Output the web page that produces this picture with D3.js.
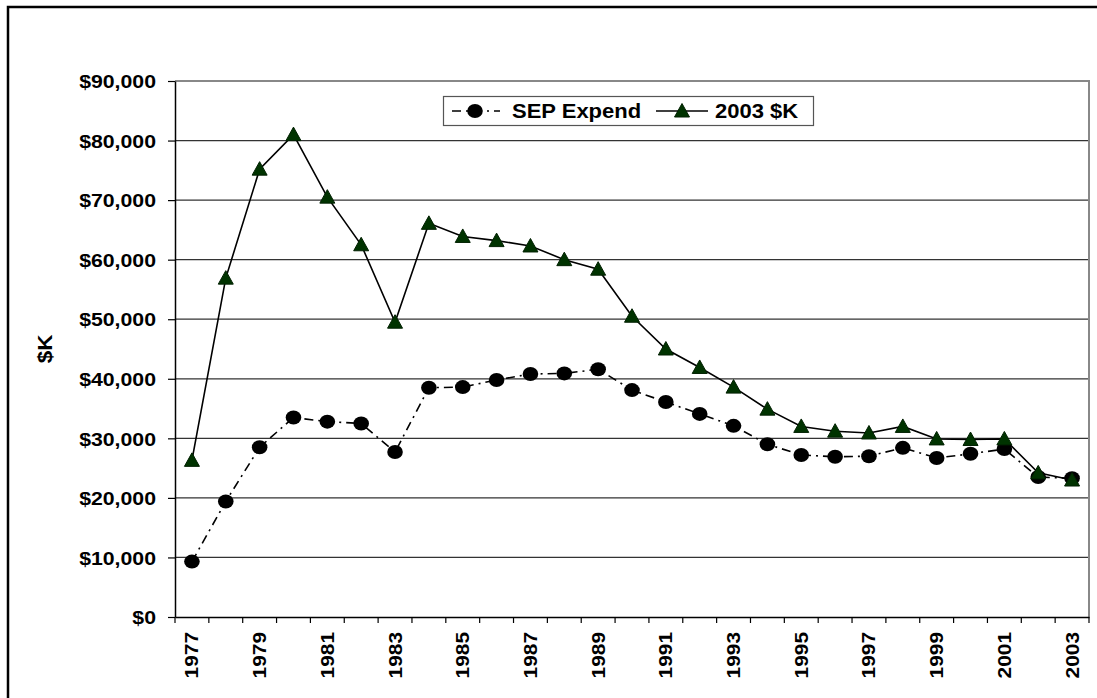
<!DOCTYPE html>
<html>
<head>
<meta charset="utf-8">
<script src="https://cdn.jsdelivr.net/npm/d3@7"></script>
<style>
    html, body { margin: 0; padding: 0; background: #fff; }
    svg text { font-family: "Liberation Sans", Arial, sans-serif; font-weight: bold; fill: #000; }
</style>
</head>
<body>
<svg id="chart" width="1097" height="698"></svg>
<script>
(function () {
    'use strict';

    var years = d3.range(1977, 2004);

    var sepExpend = [
        9300, 19400, 28500, 33500, 32800, 32500, 27700, 38500, 38600, 39800,
        40800, 40900, 41600, 38100, 36100, 34100, 32100, 29000, 27200, 26900,
        27000, 28400, 26700, 27400, 28200, 23500, 23300
    ];

    var dollars2003 = [
        26300, 56900, 75200, 81000, 70500, 62500, 49500, 66100, 63900, 63200,
        62300, 60000, 58400, 50500, 45000, 41900, 38600, 34900, 32000, 31200,
        30900, 32000, 29900, 29800, 29900, 24200, 23000
    ];

    var yTicks = d3.range(0, 90001, 10000);

    var seriesNames = ['SEP Expend', '2003 $K'];

    var frame = { left: 175, top: 81, right: 1089, bottom: 617 };
    var triColor = '#003300';

    var svg = d3.select('#chart');

    // outer chart border (runs off the picture on the right and bottom)
    svg.append('rect')
        .attr('x', 8).attr('y', 7)
        .attr('width', 1200).attr('height', 800)
        .attr('fill', 'none')
        .attr('stroke', '#000')
        .attr('stroke-width', 2.5);

    var x = d3.scaleBand()
        .domain(years)
        .range([frame.left, frame.right])
        .padding(0);

    var y = d3.scaleLinear()
        .domain([0, 90000])
        .range([frame.bottom, frame.top]);

    var cx = function (d, i) { return x(years[i]) + x.bandwidth() / 2; };

    // grid
    svg.append('g')
        .selectAll('line')
        .data(yTicks.slice(1, -1))
        .enter().append('line')
        .attr('x1', frame.left).attr('x2', frame.right)
        .attr('y1', function (d) { return y(d); })
        .attr('y2', function (d) { return y(d); })
        .attr('stroke', '#333')
        .attr('stroke-width', 1.2);

    // plot frame top/right
    svg.append('path')
        .attr('d', 'M' + frame.left + ',' + frame.top + 'H' + frame.right + 'V' + frame.bottom)
        .attr('fill', 'none')
        .attr('stroke', '#888')
        .attr('stroke-width', 2);

    // y axis
    var yAxis = svg.append('g')
        .attr('transform', 'translate(' + frame.left + ',0)')
        .call(d3.axisLeft(y)
            .tickValues(yTicks)
            .tickSize(7)
            .tickSizeOuter(0)
            .tickFormat(function (d) { return '$' + d3.format(',')(d); }));

    yAxis.select('.domain').attr('stroke', '#000').attr('stroke-width', 1.5);
    yAxis.selectAll('.tick line').attr('stroke', '#000').attr('stroke-width', 1.2);
    yAxis.selectAll('.tick text')
        .attr('x', 0)
        .attr('dy', '0.36em')
        .attr('transform', 'translate(-19,0) scale(1.15,1)')
        .style('font-size', '18.5px')
        .style('font-family', '"Liberation Sans", Arial, sans-serif')
        .style('font-weight', 'bold');

    // x axis: labels on odd years, ticks between categories
    var xAxis = svg.append('g')
        .attr('transform', 'translate(0,' + frame.bottom + ')')
        .call(d3.axisBottom(x)
            .tickSize(0)
            .tickSizeOuter(0)
            .tickFormat(function (d, i) { return i % 2 === 0 ? d : ''; }));

    xAxis.select('.domain').attr('stroke', '#000').attr('stroke-width', 1.5);
    xAxis.selectAll('.tick text')
        .attr('x', 0).attr('y', 0)
        .attr('dy', '0.35em')
        .attr('text-anchor', 'end')
        .attr('transform', 'translate(0,15) rotate(-90) scale(1.13,1)')
        .style('font-size', '18.5px')
        .style('font-family', '"Liberation Sans", Arial, sans-serif')
        .style('font-weight', 'bold');

    var boundaries = years.map(function (d) { return x(d); }).concat([frame.right]);
    xAxis.append('g')
        .selectAll('line')
        .data(boundaries)
        .enter().append('line')
        .attr('x1', function (d) { return d; })
        .attr('x2', function (d) { return d; })
        .attr('y1', 0).attr('y2', 6)
        .attr('stroke', '#000')
        .attr('stroke-width', 1.2);

    // axis title
    svg.append('text')
        .attr('transform', 'translate(52,349) rotate(-90) scale(1.12,1)')
        .attr('text-anchor', 'middle')
        .style('font-size', '20px')
        .text('$K');

    var line = d3.line()
        .x(cx)
        .y(function (d) { return y(d); });

    // SEP Expend
    svg.append('path')
        .datum(sepExpend)
        .attr('d', line)
        .attr('fill', 'none')
        .attr('stroke', '#000')
        .attr('stroke-width', 1.6)
        .attr('stroke-dasharray', '9,5,2,5');

    svg.append('g')
        .selectAll('ellipse')
        .data(sepExpend)
        .enter().append('ellipse')
        .attr('cx', cx)
        .attr('cy', function (d) { return y(d); })
        .attr('rx', 7.8)
        .attr('ry', 7)
        .attr('fill', '#000');

    // 2003 $K
    var tri = 'M0,-7.5L7.5,6L-7.5,6Z';

    svg.append('path')
        .datum(dollars2003)
        .attr('d', line)
        .attr('fill', 'none')
        .attr('stroke', '#000')
        .attr('stroke-width', 1.6);

    svg.append('g')
        .selectAll('path')
        .data(dollars2003)
        .enter().append('path')
        .attr('d', tri)
        .attr('transform', function (d, i) { return 'translate(' + cx(d, i) + ',' + y(d) + ')'; })
        .attr('fill', triColor)
        .attr('stroke', '#002000')
        .attr('stroke-width', 1);

    // legend
    var legend = svg.append('g');
    legend.append('rect')
        .attr('x', 443.5).attr('y', 96.5)
        .attr('width', 370).attr('height', 29)
        .attr('fill', '#fff')
        .attr('stroke', '#555')
        .attr('stroke-width', 1.2);

    legend.append('line')
        .attr('x1', 450).attr('x2', 500)
        .attr('y1', 111).attr('y2', 111)
        .attr('stroke', '#000')
        .attr('stroke-width', 1.6)
        .attr('stroke-dasharray', '9,5,2,5')
        .attr('stroke-dashoffset', -2);
    legend.append('ellipse')
        .attr('cx', 475).attr('cy', 111)
        .attr('rx', 7.8).attr('ry', 7)
        .attr('fill', '#000');
    legend.append('text')
        .attr('transform', 'translate(512,118) scale(1.1,1)')
        .style('font-size', '20px')
        .text(seriesNames[0]);

    legend.append('line')
        .attr('x1', 656).attr('x2', 708)
        .attr('y1', 111).attr('y2', 111)
        .attr('stroke', '#000')
        .attr('stroke-width', 1.6);
    legend.append('path')
        .attr('d', tri)
        .attr('transform', 'translate(682,111)')
        .attr('fill', triColor)
        .attr('stroke', '#002000')
        .attr('stroke-width', 1);
    legend.append('text')
        .attr('transform', 'translate(715,118) scale(1.1,1)')
        .style('font-size', '20px')
        .text(seriesNames[1]);
}());
</script>
</body>
</html>
